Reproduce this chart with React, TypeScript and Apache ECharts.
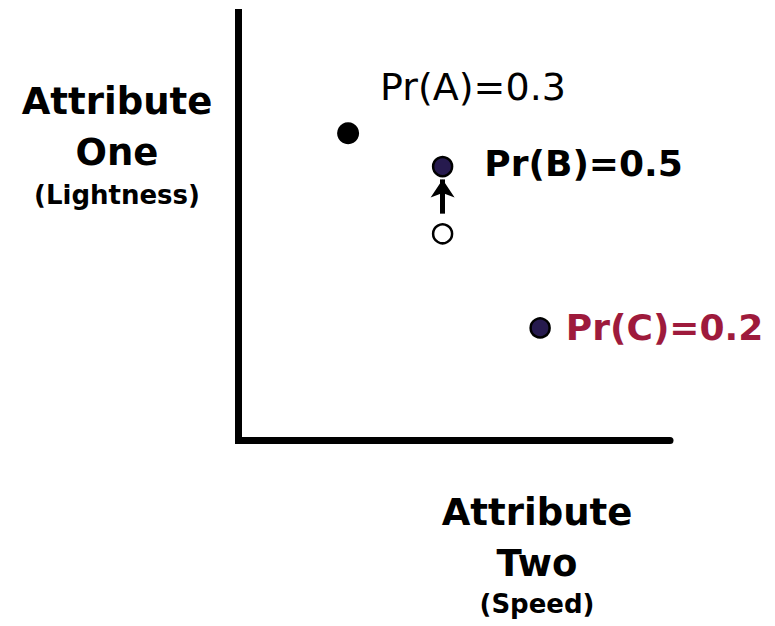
import React, { useEffect, useRef } from "react";
import * as echarts from "echarts";

// Categories and their positions in the (speed, lightness) attribute space
const categories = ["A", "B", "C"];
const speed = [2.54, 4.73, 6.99];
const lightness = [7.18, 6.4, 2.63];
const probability = [0.3, 0.5, 0.2];

// Earlier position of category B before it moved up
const priorSpeed = 4.73;
const priorLightness = 4.83;
// Arrow showing the move from the earlier position toward B
const arrowFrom = [4.73, 5.3];
const arrowTo = [4.73, 6.1];

// Axis titles, one entry per line
const yTitleLines = ["Attribute", "One", "(Lightness)"];
const xTitleLines = ["Attribute", "Two", "(Speed)"];

const FONT = "'DejaVu Sans', 'Noto Sans', sans-serif";
const NAVY = "#261a4e";
const CRIMSON = "#9e1a3c";

export default function App() {
  const ref = useRef<HTMLDivElement>(null);

  useEffect(() => {
    if (!ref.current) return;
    const chart = echarts.init(ref.current, undefined, { renderer: "svg" });

    const labelStyles = [
      { fontWeight: "normal", color: "#000", distance: 21, offset: [0, -46] },
      { fontWeight: "bold", color: "#000", distance: 31, offset: [0, -3] },
      { fontWeight: "bold", color: CRIMSON, distance: 15, offset: [0, 0] },
    ];
    const pointStyles = [
      { color: "#000", borderColor: "#000", borderWidth: 0, size: 22 },
      { color: NAVY, borderColor: "#000", borderWidth: 2.5, size: 19 },
      { color: NAVY, borderColor: "#000", borderWidth: 2.5, size: 19 },
    ];

    const pointData = categories.map((name, i) => ({
      name,
      value: [speed[i], lightness[i]],
      symbolSize: pointStyles[i].size,
      itemStyle: {
        color: pointStyles[i].color,
        borderColor: pointStyles[i].borderColor,
        borderWidth: pointStyles[i].borderWidth,
        opacity: 1,
      },
      label: {
        show: true,
        position: "right",
        formatter: `Pr(${name})=${probability[i]}`,
        fontFamily: FONT,
        fontSize: i === 0 ? 38 : 36,
        fontWeight: labelStyles[i].fontWeight,
        color: labelStyles[i].color,
        distance: labelStyles[i].distance,
        offset: labelStyles[i].offset,
      },
    }));

    const titleText = (lines: string[], cx: number, ys: number[]) =>
      lines.map((t, i) => ({
        type: "text",
        x: cx,
        y: ys[i],
        style: {
          text: t,
          fontFamily: FONT,
          fontWeight: "bold",
          fontSize: i === 2 ? 26 : 37,
          fill: "#000",
          textAlign: "center",
          textVerticalAlign: "middle",
        },
      }));

    chart.setOption({
      animation: false,
      backgroundColor: "#fff",
      grid: { left: 238.5, top: 12.5, right: 105, bottom: 185.5 },
      xAxis: {
        type: "value",
        min: 0,
        max: 10,
        axisLine: { show: true, lineStyle: { color: "#000", width: 7 } },
        axisTick: { show: false },
        axisLabel: { show: false },
        splitLine: { show: false },
      },
      yAxis: {
        type: "value",
        min: 0,
        max: 10,
        axisLine: {
          show: true,
          lineStyle: { color: "#000", width: 7, cap: "square" },
        },
        axisTick: { show: false },
        axisLabel: { show: false },
        splitLine: { show: false },
      },
      graphic: [
        ...titleText(yTitleLines, 117, [101, 152, 195]),
        ...titleText(xTitleLines, 537, [512, 563, 604]),
      ],
      series: [
        {
          type: "lines",
          coordinateSystem: "cartesian2d",
          symbol: ["none", "arrow"],
          symbolSize: 18,
          lineStyle: { color: "#000", width: 5, opacity: 1 },
          data: [{ coords: [arrowFrom, arrowTo] }],
          z: 1,
        },
        {
          type: "scatter",
          symbol: "circle",
          data: [
            {
              value: [priorSpeed, priorLightness],
              symbolSize: 19,
              itemStyle: {
                color: "#fff",
                borderColor: "#000",
                borderWidth: 2.5,
                opacity: 1,
              },
            },
          ],
          z: 2,
        },
        {
          type: "scatter",
          symbol: "circle",
          data: pointData,
          z: 3,
        },
      ],
    });

    return () => chart.dispose();
  }, []);

  return (
    <div
      ref={ref}
      style={{ position: "fixed", left: 0, top: 0, width: 775, height: 626 }}
    />
  );
}
